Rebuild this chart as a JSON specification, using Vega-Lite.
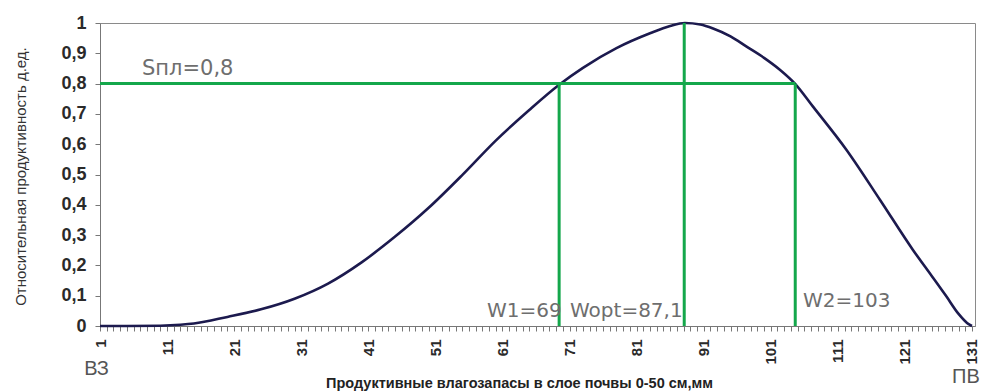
{
  "$schema": "https://vega.github.io/schema/vega-lite/v6.json",
  "width": 875,
  "height": 303,
  "autosize": "none",
  "padding": {"left": 100, "top": 23, "right": 7, "bottom": 66},
  "background": "white",
  "config": {"view": {"stroke": "#8a8a8a", "strokeWidth": 1}},
  "datasets": {
    "curve": [
      {"w": 1, "s": 0}, {"w": 5, "s": 0}, {"w": 10, "s": 0.001}, {"w": 13, "s": 0.004},
      {"w": 15, "s": 0.008}, {"w": 20, "s": 0.03}, {"w": 25, "s": 0.055}, {"w": 30, "s": 0.09},
      {"w": 35, "s": 0.14}, {"w": 40, "s": 0.21}, {"w": 45, "s": 0.295}, {"w": 50, "s": 0.39},
      {"w": 55, "s": 0.498}, {"w": 60, "s": 0.612}, {"w": 65, "s": 0.713}, {"w": 69.5, "s": 0.797},
      {"w": 73, "s": 0.852}, {"w": 78, "s": 0.917}, {"w": 83, "s": 0.966}, {"w": 86, "s": 0.99},
      {"w": 88.2, "s": 1.0}, {"w": 90.5, "s": 0.995}, {"w": 92.4, "s": 0.982}, {"w": 95, "s": 0.956},
      {"w": 97.4, "s": 0.922}, {"w": 100, "s": 0.885}, {"w": 102.4, "s": 0.845}, {"w": 104.6, "s": 0.8},
      {"w": 107.3, "s": 0.724}, {"w": 112.3, "s": 0.581}, {"w": 117.3, "s": 0.416}, {"w": 122.2, "s": 0.251},
      {"w": 125, "s": 0.165}, {"w": 127.2, "s": 0.097}, {"w": 129, "s": 0.04}, {"w": 130.5, "s": 0.006},
      {"w": 131, "s": 0}
    ],
    "vlines": [
      {"name": "W1", "w": 69.45, "s": 0, "s1": 0.8},
      {"name": "Wopt", "w": 88.1, "s": 0, "s1": 1},
      {"name": "W2", "w": 104.65, "s": 0, "s1": 0.8}
    ],
    "hline": [{"w": 1, "w1": 104.65, "s": 0.8}],
    "slabel": [{"text": "Sпл=0,8", "w": 7.26, "s": 0.828}],
    "labels": [
      {"text": "W1=69", "w": 58.7, "s": 0.03},
      {"text": "Wopt=87,1", "w": 71.07, "s": 0.03},
      {"text": "W2=103", "w": 105.8, "s": 0.063}
    ],
    "edge": [
      {"text": "ВЗ", "w": 0.48, "s": -0.162},
      {"text": "ПВ", "w": 130.1, "s": -0.188}
    ]
  },
  "encoding": {
    "x": {
      "field": "w", "type": "quantitative",
      "title": "Продуктивные  влагозапасы в слое почвы 0-50 см,мм",
      "scale": {"domain": [1, 131.45], "nice": false, "zero": false},
      "axis": {
        "values": [1,2,3,4,5,6,7,8,9,10,11,12,13,14,15,16,17,18,19,20,21,22,23,24,25,26,27,28,29,30,31,32,33,34,35,36,37,38,39,40,41,42,43,44,45,46,47,48,49,50,51,52,53,54,55,56,57,58,59,60,61,62,63,64,65,66,67,68,69,70,71,72,73,74,75,76,77,78,79,80,81,82,83,84,85,86,87,88,89,90,91,92,93,94,95,96,97,98,99,100,101,102,103,104,105,106,107,108,109,110,111,112,113,114,115,116,117,118,119,120,121,122,123,124,125,126,127,128,129,130,131],
        "labelExpr": "(datum.value - 1) % 10 == 0 ? datum.value : ''",
        "labelAngle": -90,
        "labelFont": "Liberation Sans",
        "labelFontSize": 15,
        "labelFontWeight": "bold",
        "labelColor": "#2a2a2a",
        "labelPadding": 8,
        "labelOverlap": false,
        "labelBound": false,
        "labelFlush": false,
        "tickSize": 5,
        "tickColor": "#777777",
        "domainColor": "#777777",
        "grid": false,
        "titleFont": "Liberation Sans",
        "titleFontSize": 14.5,
        "titleFontWeight": "bold",
        "titleColor": "#222222",
        "titleAlign": "center",
        "titleX": 419,
        "titleY": 61,
        "titleBaseline": "alphabetic"
      }
    },
    "y": {
      "field": "s", "type": "quantitative",
      "title": "Относительная продуктивность д.ед.",
      "scale": {"domain": [0, 1], "nice": false},
      "axis": {
        "values": [0, 0.1, 0.2, 0.3, 0.4, 0.5, 0.6, 0.7, 0.8, 0.9, 1],
        "labelExpr": "replace(format(datum.value, '.1~f'), '.', ',')",
        "labelFont": "Liberation Sans",
        "labelFontSize": 18,
        "labelFontWeight": "bold",
        "labelColor": "#2a2a2a",
        "labelPadding": 9,
        "labelOverlap": false,
        "tickSize": 5,
        "tickColor": "#777777",
        "domainColor": "#777777",
        "grid": false,
        "titleFont": "Liberation Sans",
        "titleFontSize": 15,
        "titleFontWeight": "normal",
        "titleColor": "#333333",
        "titleAngle": -90,
        "titleAlign": "center",
        "titleBaseline": "middle",
        "titleX": -80,
        "titleY": 153
      }
    }
  },
  "layer": [
    {
      "data": {"name": "curve"},
      "mark": {"type": "line", "color": "#1c1a4e", "strokeWidth": 2.6, "interpolate": "monotone"}
    },
    {
      "data": {"name": "vlines"},
      "mark": {"type": "rule", "color": "#14a74b", "strokeWidth": 3},
      "encoding": {"y2": {"field": "s1"}}
    },
    {
      "data": {"name": "hline"},
      "mark": {"type": "rule", "color": "#14a74b", "strokeWidth": 3},
      "encoding": {"x2": {"field": "w1"}}
    },
    {
      "data": {"name": "slabel"},
      "mark": {"type": "text", "align": "left", "baseline": "alphabetic", "font": "DejaVu Sans", "fontSize": 21, "color": "#6e6e6e"},
      "encoding": {"text": {"field": "text"}}
    },
    {
      "data": {"name": "labels"},
      "mark": {"type": "text", "align": "left", "baseline": "alphabetic", "font": "DejaVu Sans", "fontSize": 20, "color": "#6e6e6e"},
      "encoding": {"text": {"field": "text"}}
    },
    {
      "data": {"name": "edge"},
      "mark": {"type": "text", "align": "center", "baseline": "alphabetic", "font": "Liberation Sans", "fontSize": 20, "color": "#555555"},
      "encoding": {"text": {"field": "text"}}
    }
  ]
}
